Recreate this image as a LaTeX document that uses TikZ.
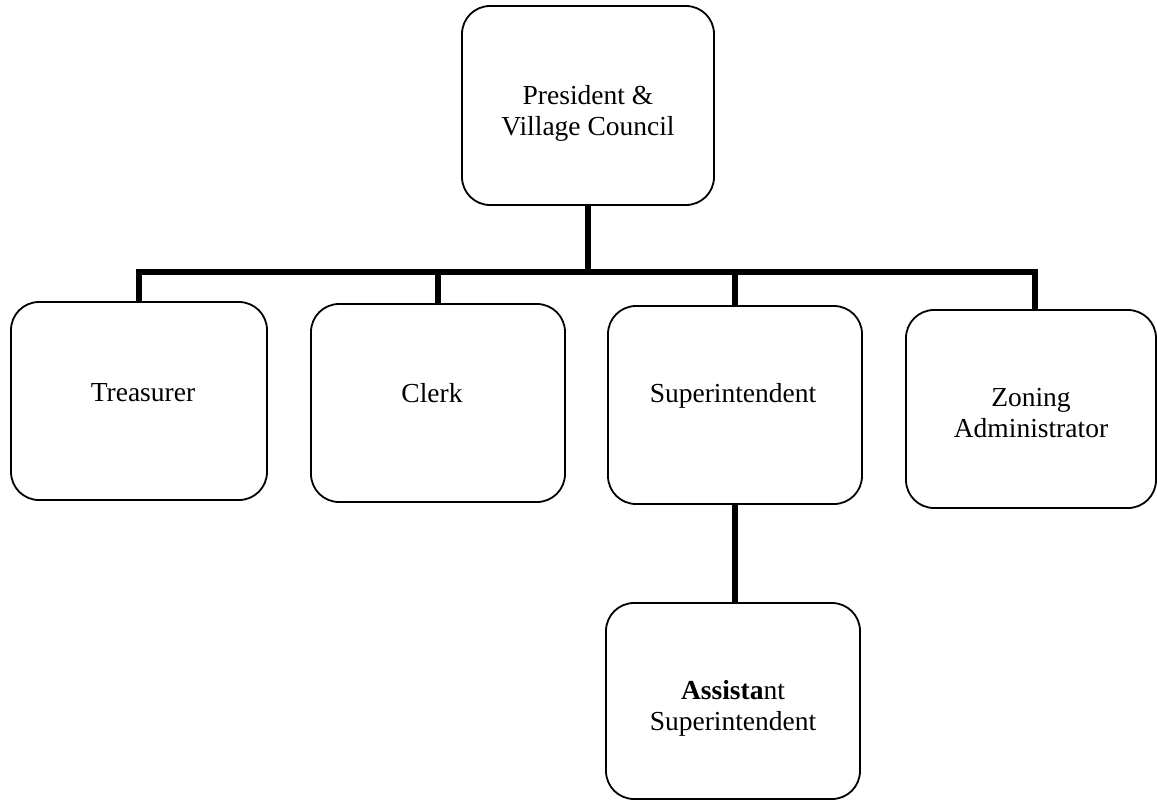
\documentclass[tikz,border=0pt]{standalone}
\usepackage{fontspec}
\setmainfont{Liberation Serif}
\begin{document}
\begin{tikzpicture}[x=1pt,y=-1pt,
  box/.style={draw=black, line width=1.8pt, rounded corners=28pt, inner sep=0pt, minimum height=198pt},
  txt/.style={font=\fontsize{27.5}{31}\selectfont, align=center, inner sep=0pt, text=black},
  conn/.style={draw=black, line width=5.5pt, line join=miter}]
\useasboundingbox (0,0) rectangle (1157,801);
% boxes
\node[box, minimum width=252pt, minimum height=199pt] (pres) at (588,105.5) {};
\node[txt] (presT) at (588,113) {President \&\\Village Council};
\node[box, minimum width=256pt] (treas) at (139,401) {};
\node[txt] (treasT) at (143,393) {Treasurer};
\node[box, minimum width=254pt] (clerk) at (438,403) {};
\node[txt] (clerkT) at (432,393) {Clerk};
\node[box, minimum width=254pt] (supt) at (735,405) {};
\node[txt] (suptT) at (733,396) {Superintendent};
\node[box, minimum width=250pt] (zon) at (1031,409) {};
\node[txt] (zonT) at (1031,413) {Zoning\\Administrator};
\node[box, minimum width=254pt, minimum height=196pt] (asst) at (733,701) {};
\node[txt] (asstT) at (733,708) {\textbf{Assista}nt\\Superintendent};
% connectors
\coordinate (bus) at (0,272);
\draw[conn] (treas.north) -- (treas.north |- bus) -- ([xshift=4pt]zon.north |- bus) -- ([xshift=4pt]zon.north);
\draw[conn] (clerk.north) -- (clerk.north |- bus);
\draw[conn] (supt.north) -- (supt.north |- bus);
\draw[conn] (pres.south) -- (pres.south |- bus);
\draw[conn] (supt.south) -- (supt.south |- asst.north);
\end{tikzpicture}
\end{document}
